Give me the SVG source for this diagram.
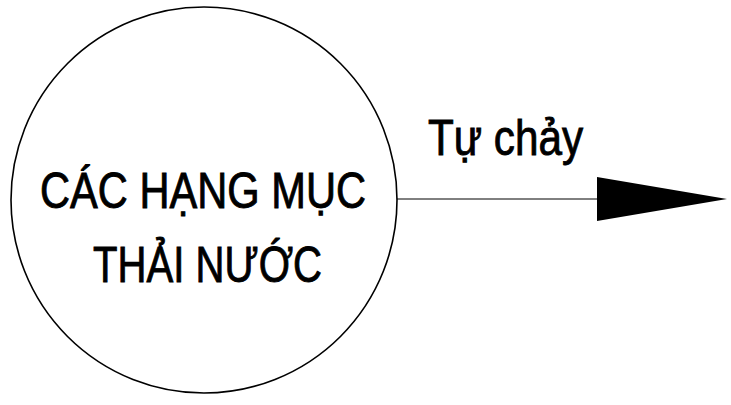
<svg xmlns="http://www.w3.org/2000/svg" width="731" height="405" viewBox="0 0 731 405">
<style>
.lbl{font-family:"Liberation Sans",Arial,sans-serif;font-size:50px;fill:#000;stroke:#000;stroke-width:0.9}
</style>
<rect width="731" height="405" fill="#fff"/>
<g id="node-source">
<circle cx="204" cy="200" r="193" fill="#fff" stroke="#000" stroke-width="1.6"/>
<text class="lbl" x="40" y="208" textLength="326" lengthAdjust="spacingAndGlyphs">CÁC HẠNG MỤC</text>
<text class="lbl" x="93" y="282" textLength="229" lengthAdjust="spacingAndGlyphs">THẢI NƯỚC</text>
</g>
<g id="connectors">
<line x1="397" y1="199" x2="598" y2="199" stroke="#000" stroke-width="1"/>
<polygon points="597,177 727,199 597,221" fill="#000"/>
<text class="lbl" x="428" y="155" textLength="155" lengthAdjust="spacingAndGlyphs">Tự chảy</text>
</g>
</svg>
